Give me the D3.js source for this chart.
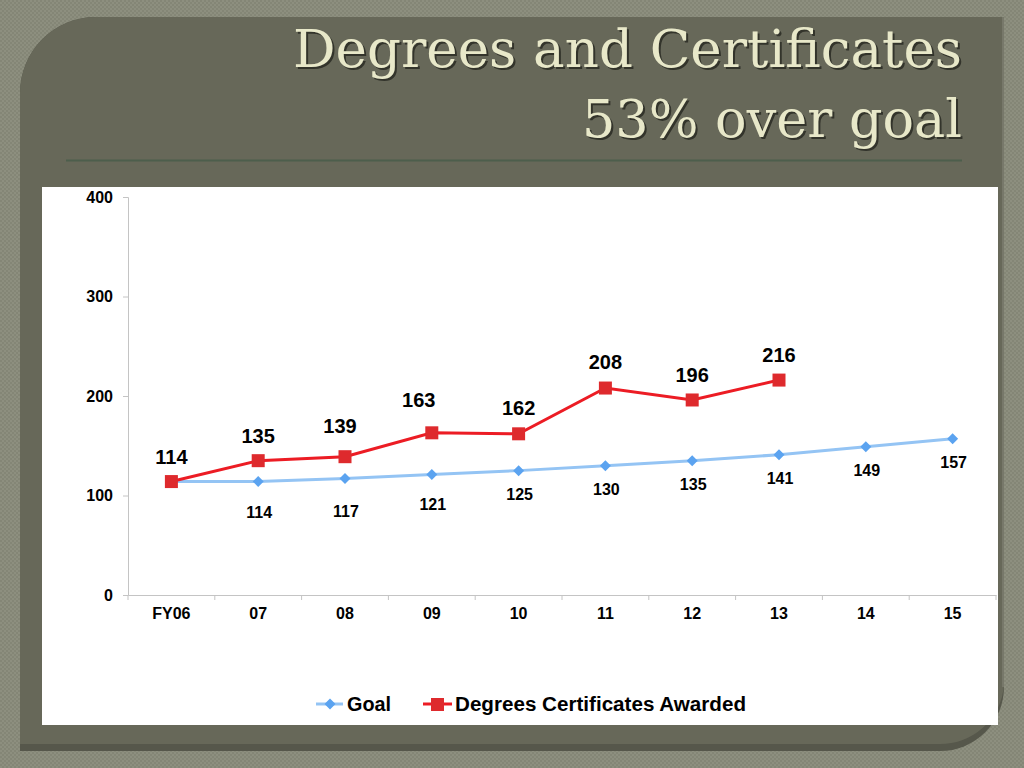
<!DOCTYPE html>
<html><head><meta charset="utf-8">
<script src="https://cdn.jsdelivr.net/npm/d3@7"></script>
<style>html,body{margin:0;padding:0;background:#8b8d7d;}svg{display:block;}</style>
</head><body>
<script>
// ---- data ----
const categories = ["FY06","07","08","09","10","11","12","13","14","15"];
const goalValues = [114,114,117,121,125,130,135,141,149,157];
const awardedValues = [114,135,139,163,162,208,196,216];
const yTicks = [0,100,200,300,400];
const seriesNames = ["Goal","Degrees Certificates Awarded"];
const titleLines = ["Degrees and Certificates","53% over goal"];

// ---- layout (label nudges, not data) ----
const goalLabelDy = [null,30,32,29,23,23,23,23,23,23];
const awardLabelDy = [25,25,31,33,26,26,25,25];
const awardLabelDx = [0,0,-5,-13,0,0,0,0];

const W=1024,H=768;
const svg=d3.select("body").append("svg").attr("width",W).attr("height",H);
const defs=svg.append("defs");
const pat=defs.append("pattern").attr("id","tex").attr("width",4).attr("height",4).attr("patternUnits","userSpaceOnUse");
pat.append("rect").attr("width",4).attr("height",4).attr("fill","#8d8f7f");
pat.append("rect").attr("width",2).attr("height",2).attr("fill","#848676");
pat.append("rect").attr("x",2).attr("y",2).attr("width",2).attr("height",2).attr("fill","#848676");
svg.append("rect").attr("width",W).attr("height",H).attr("fill","url(#tex)");

// panel with rounded top-left and bottom-right corners
const px0=20,py0=17,px1=1004,py1=751,r1=76,r2=64;
const panelPath=`M${px0},${py0+r1} A${r1},${r1} 0 0 1 ${px0+r1},${py0} L${px1},${py0} L${px1},${py1-r2} A${r2},${r2} 0 0 1 ${px1-r2},${py1} L${px0},${py1} Z`;
svg.append("path").attr("d",panelPath).attr("fill","#56574b");
svg.append("path").attr("d",`M${px0},${py0+r1} A${r1},${r1} 0 0 1 ${px0+r1},${py0} L${px1},${py0} L${px1},${py1-r2-2} A${r2},${r2} 0 0 1 ${px1-r2-2},${py1-7} L${px0},${py1-7} Z`).attr("fill","#676859");
svg.append("line").attr("x1",px1-1).attr("x2",px1-1).attr("y1",py0).attr("y2",py1-r2).attr("stroke","#77786a").attr("stroke-width",2);

// title
const tg=svg.append("g");
const tl=[{t:titleLines[0],y:67,len:669},{t:titleLines[1],y:137,len:380}];
tl.forEach(d=>{
  tg.append("text").attr("x",964).attr("y",d.y+2).attr("text-anchor","end")
    .attr("font-family","DejaVu Serif").attr("font-size",52)
    .attr("textLength",d.len).attr("lengthAdjust","spacingAndGlyphs")
    .attr("fill","#2a2b24").attr("opacity",0.85).text(d.t);
  tg.append("text").attr("x",962).attr("y",d.y).attr("text-anchor","end")
    .attr("font-family","DejaVu Serif").attr("font-size",52)
    .attr("textLength",d.len).attr("lengthAdjust","spacingAndGlyphs")
    .attr("fill","#e8e8c9").text(d.t);
});
svg.append("line").attr("x1",66).attr("x2",962).attr("y1",160.5).attr("y2",160.5).attr("stroke","#4d5e4c").attr("stroke-width",2);

// chart area
svg.append("rect").attr("x",42).attr("y",187).attr("width",956).attr("height",538).attr("fill","#ffffff");

const x=d3.scaleBand().domain(categories).range([128,996]);
const y=d3.scaleLinear().domain([0,400]).range([595,197]);
const cx=c=>x(c)+x.bandwidth()/2;

const font="Liberation Sans, Arial, sans-serif";
// y axis
const ya=svg.append("g").attr("transform","translate(128,0)").call(d3.axisLeft(y).tickValues(yTicks).tickSize(5).tickPadding(10));
ya.select(".domain").attr("stroke","#c4c4c4");
ya.selectAll(".tick line").attr("stroke","#c4c4c4");
ya.selectAll("text").attr("font-family",font).attr("font-weight","bold").attr("font-size",16).attr("fill","#000");
// x axis
const xa=svg.append("g").attr("transform","translate(0,595)").call(d3.axisBottom(x).tickSize(0).tickPadding(13));
xa.select(".domain").attr("stroke","#c4c4c4");
xa.selectAll("text").attr("font-family",font).attr("font-weight","bold").attr("font-size",16).attr("fill","#000");
const bounds=categories.map(c=>x(c)).concat([x(categories[categories.length-1])+x.bandwidth()]);
xa.selectAll(".bt").data(bounds).enter().append("line").attr("x1",d=>d).attr("x2",d=>d).attr("y1",0).attr("y2",5).attr("stroke","#c4c4c4");

// series
const goalData=categories.map((c,i)=>({c,v:goalValues[i],i}));
const awardData=awardedValues.map((v,i)=>({c:categories[i],v,i}));
const line=d3.line().x(d=>cx(d.c)).y(d=>y(d.v));
svg.append("path").datum(goalData).attr("d",line).attr("fill","none").attr("stroke","#94c4f4").attr("stroke-width",3);
svg.append("path").datum(awardData).attr("d",line).attr("fill","none").attr("stroke","#ec1c24").attr("stroke-width",3);
const dia="M0,-5.5L5.5,0L0,5.5L-5.5,0Z";
svg.selectAll(".gd").data(goalData).enter().append("path").attr("d",dia)
  .attr("transform",d=>`translate(${cx(d.c)},${y(d.v)})`).attr("fill","#5ba3f0");
svg.selectAll(".ad").data(awardData).enter().append("rect")
  .attr("x",d=>cx(d.c)-6.5).attr("y",d=>y(d.v)-6.5).attr("width",13).attr("height",13).attr("fill","#de2a2d");

// labels
svg.selectAll(".gl").data(goalData.filter(d=>goalLabelDy[d.i]!=null)).enter().append("text")
  .attr("x",d=>cx(d.c)+1).attr("y",d=>y(d.v)+goalLabelDy[d.i]+6).attr("text-anchor","middle")
  .attr("font-family",font).attr("font-weight","bold").attr("font-size",16).attr("fill","#000").text(d=>d.v);
svg.selectAll(".al").data(awardData).enter().append("text")
  .attr("x",d=>cx(d.c)+awardLabelDx[d.i]).attr("y",d=>y(d.v)-awardLabelDy[d.i]+7).attr("text-anchor","middle")
  .attr("font-family",font).attr("font-weight","bold").attr("font-size",20).attr("fill","#000").text(d=>d.v);

// legend
const lg=svg.append("g");
lg.append("line").attr("x1",316).attr("x2",343).attr("y1",704).attr("y2",704).attr("stroke","#94c4f4").attr("stroke-width",3);
lg.append("path").attr("d",dia).attr("transform","translate(330,704)").attr("fill","#5ba3f0");
lg.append("text").attr("x",347).attr("y",711).attr("font-family",font).attr("font-weight","bold").attr("font-size",20).attr("textLength",44).attr("lengthAdjust","spacingAndGlyphs").text(seriesNames[0]);
lg.append("line").attr("x1",423).attr("x2",452).attr("y1",704).attr("y2",704).attr("stroke","#ec1c24").attr("stroke-width",3);
lg.append("rect").attr("x",431).attr("y",698).attr("width",13).attr("height",13).attr("fill","#de2a2d");
lg.append("text").attr("x",455).attr("y",711).attr("font-family",font).attr("font-weight","bold").attr("font-size",20).attr("textLength",291).attr("lengthAdjust","spacingAndGlyphs").text(seriesNames[1]);
</script>
</body></html>
